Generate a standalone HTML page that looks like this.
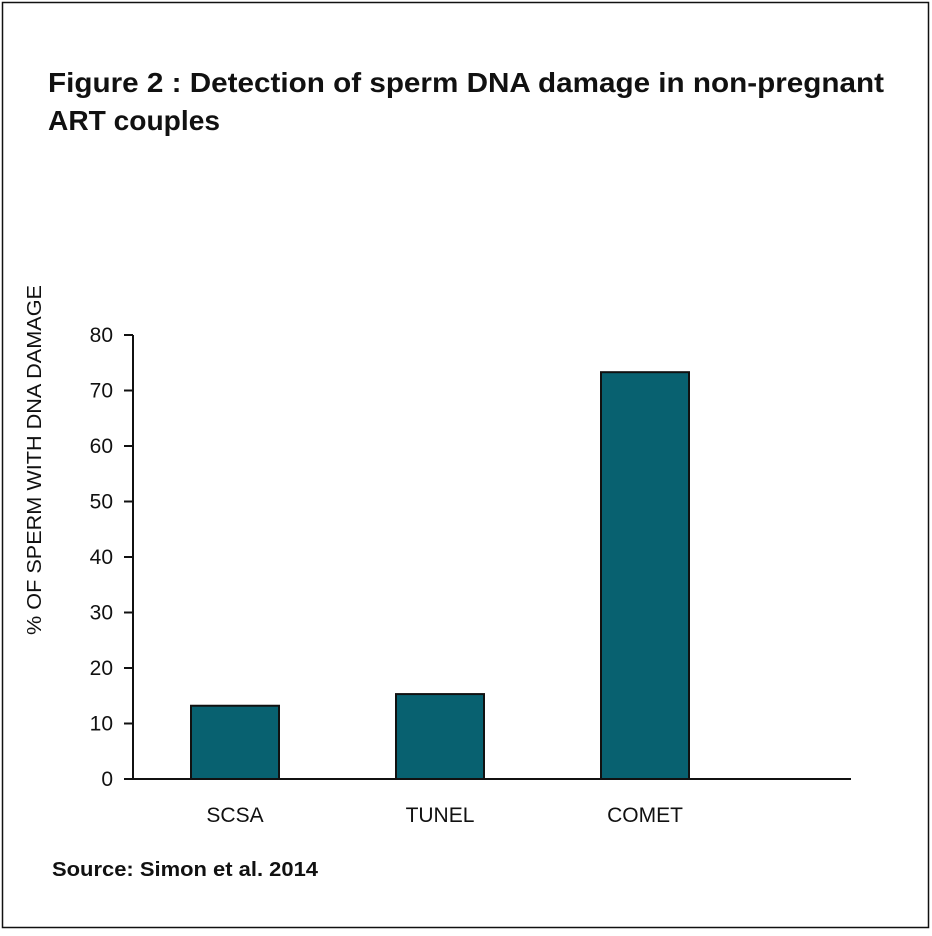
<!DOCTYPE html>
<html><head><meta charset="utf-8"><style>
html,body{margin:0;padding:0;background:#fff;}
body{width:932px;height:931px;position:relative;overflow:hidden;font-family:"Liberation Sans",sans-serif;}
</style></head><body>
<svg width="932" height="931" xmlns="http://www.w3.org/2000/svg">
<rect x="2.5" y="2.5" width="926" height="925" fill="#fff" stroke="#111" stroke-width="1.5"/>
<text x="48" y="92" font-size="28" font-weight="bold" fill="#111" textLength="836" lengthAdjust="spacingAndGlyphs">Figure 2 : Detection of sperm DNA damage in non-pregnant</text>
<text x="48" y="130" font-size="28" font-weight="bold" fill="#111" textLength="172" lengthAdjust="spacingAndGlyphs">ART couples</text>
<text transform="translate(41,460) rotate(-90)" text-anchor="middle" font-size="20" fill="#111" textLength="350" lengthAdjust="spacingAndGlyphs">% OF SPERM WITH DNA DAMAGE</text>
<text x="52" y="876" font-size="20" font-weight="bold" fill="#111" textLength="266" lengthAdjust="spacingAndGlyphs">Source: Simon et al. 2014</text>
<g id="plot"></g>
</svg>
<script>
const categories = ["SCSA", "TUNEL", "COMET"];
const values = [13.2, 15.3, 73.3];
const yTicks = [0, 10, 20, 30, 40, 50, 60, 70, 80];
const NS = "http://www.w3.org/2000/svg";
const X0 = 133, X1 = 851, Y0 = 779, Y1 = 335, YMAX = 80, SLOT = 205, BW = 88;
const y = v => Y0 - (v / YMAX) * (Y0 - Y1);
const xc = i => X0 + SLOT * (i + 0.5) - 0.5;
const g = document.getElementById("plot");
function mk(tag, attrs) { const e = document.createElementNS(NS, tag); for (const k in attrs) e.setAttribute(k, attrs[k]); g.appendChild(e); return e; }
values.forEach((v, i) => {
  const r = mk("rect", {x: xc(i) - BW / 2, y: y(v), width: BW, height: Y0 - y(v), fill: "#086170", stroke: "#111", "stroke-width": 2});
  
  
  const t = mk("text", {x: xc(i), y: 822, "text-anchor": "middle", "font-size": 21, fill: "#111"});
  t.textContent = categories[i];
  
  
});
yTicks.forEach(v => {
  const l = mk("line", {x1: X0 - 9, x2: X0, y1: y(v), y2: y(v), stroke: "#111", "stroke-width": 2});
  
  
  const t = mk("text", {x: 113, y: y(v) + 7, "text-anchor": "end", "font-size": 21, fill: "#111"});
  t.textContent = v;
  
  
});
const ya = mk("line", {x1: X0, x2: X0, y1: Y1, y2: Y0, stroke: "#111", "stroke-width": 2});


const xa = mk("line", {x1: X0 - 9, x2: X1, y1: Y0, y2: Y0, stroke: "#111", "stroke-width": 2});


</script>
</body></html>
